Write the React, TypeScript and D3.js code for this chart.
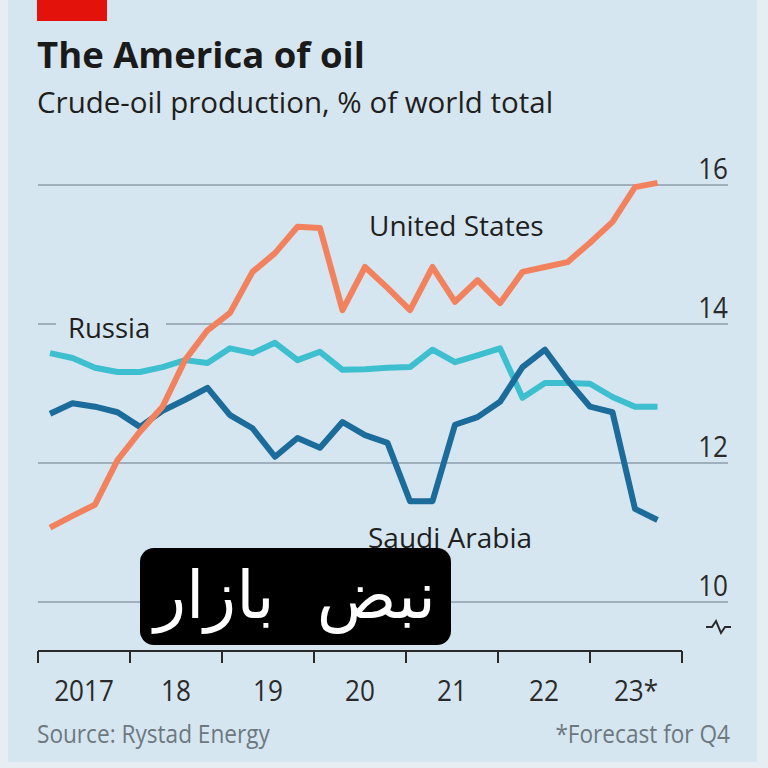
import React from 'react';
import * as d3 from 'd3';

const quarters = [
  '2017Q1', '2017Q2', '2017Q3', '2017Q4',
  '2018Q1', '2018Q2', '2018Q3', '2018Q4',
  '2019Q1', '2019Q2', '2019Q3', '2019Q4',
  '2020Q1', '2020Q2', '2020Q3', '2020Q4',
  '2021Q1', '2021Q2', '2021Q3', '2021Q4',
  '2022Q1', '2022Q2', '2022Q3', '2022Q4',
  '2023Q1', '2023Q2', '2023Q3', '2023Q4',
];

const unitedStates = [11.07, 11.24, 11.4, 12.04, 12.45, 12.81, 13.48, 13.91, 14.16, 14.75, 15.02, 15.4, 15.38, 14.2, 14.82, 14.52, 14.2, 14.82, 14.32, 14.63, 14.3, 14.75, 14.82, 14.89, 15.17, 15.47, 15.97, 16.03];
const russia = [13.58, 13.51, 13.37, 13.31, 13.31, 13.38, 13.48, 13.44, 13.65, 13.58, 13.73, 13.48, 13.6, 13.34, 13.35, 13.37, 13.38, 13.63, 13.45, 13.55, 13.65, 12.94, 13.15, 13.15, 13.14, 12.95, 12.81, 12.81];
const saudiArabia = [12.71, 12.86, 12.81, 12.73, 12.52, 12.75, 12.91, 13.08, 12.69, 12.5, 12.09, 12.36, 12.22, 12.59, 12.4, 12.29, 11.45, 11.45, 12.55, 12.66, 12.88, 13.38, 13.63, 13.19, 12.81, 12.73, 11.34, 11.18];

const yearTicks = [2017, 2018, 2019, 2020, 2021, 2022, 2023, 2024];
const yearLabels = ['2017', '18', '19', '20', '21', '22', '23*'];
const yTicks = [10, 12, 14, 16];

const title = 'The America of oil';
const subtitle = 'Crude-oil production, % of world total';
const source = 'Source: Rystad Energy';
const note = '*Forecast for Q4';
const watermark = 'نبض  بازار';

const FONT = "'Open Sans', 'Noto Sans', sans-serif";
const NARROW = 0.87;

export default function App() {
  const x = d3.scaleLinear().domain([0, quarters.length - 1]).range([50, 657.5]);
  const xYear = d3.scaleLinear().domain([2017, 2024]).range([38, 682]);
  const y = d3.scaleLinear().domain([10, 16]).range([602, 185]);

  const line = d3
    .line<number>()
    .x((_, i) => x(i))
    .y((d) => y(d));

  const series = [
    { name: 'Russia', values: russia, color: '#3dbfd0' },
    { name: 'Saudi Arabia', values: saudiArabia, color: '#1b6b9b' },
    { name: 'United States', values: unitedStates, color: '#f2825e' },
  ];

  return (
    <svg
      width={768}
      height={768}
      style={{ position: 'absolute', left: 0, top: 0 }}
      xmlns="http://www.w3.org/2000/svg"
    >
      <rect x={0} y={0} width={768} height={768} fill="#e6eef4" />
      <rect x={8} y={0} width={749} height={762} fill="#d6e6f0" />
      <rect x={37} y={0} width={70} height={21} fill="#e3120b" />

      <text x={37} y={68} fontFamily={FONT} fontWeight={700} fontSize={36.5} fill="#1a1a1a">
        {title}
      </text>
      <text x={37} y={113} fontFamily={FONT} fontSize={29.5} fill="#1f1f1f">
        {subtitle}
      </text>

      {/* gridlines */}
      {yTicks.map((t) => (
        <line key={t} x1={38} x2={728} y1={y(t)} y2={y(t)} stroke="#9fb0bc" strokeWidth={2} />
      ))}
      {yTicks.map((t) => (
        <text
          key={'l' + t}
          transform={`translate(728,${y(t) - 6}) scale(${NARROW},1)`}
          textAnchor="end"
          fontFamily={FONT}
          fontSize={30}
          fill="#2a2a2a"
        >
          {t}
        </text>
      ))}
      <path
        d={`M706,627 h6 l4,-6 l5,12 l4,-6 h6`}
        fill="none"
        stroke="#2a2a2a"
        strokeWidth={2}
      />

      {/* Russia label knockout */}
      <rect x={56} y={306} width={110} height={36} fill="#d6e6f0" />
      <text x={68} y={338} fontFamily={FONT} fontSize={27.5} fill="#1f1f1f">
        Russia
      </text>
      <text x={369} y={236} fontFamily={FONT} fontSize={28} fill="#1f1f1f">
        United States
      </text>
      <text x={368} y={548} fontFamily={FONT} fontSize={28} fill="#1f1f1f">
        Saudi Arabia
      </text>

      {series.map((s) => (
        <path
          key={s.name}
          d={line(s.values) || ''}
          fill="none"
          stroke={s.color}
          strokeWidth={6}
          strokeLinejoin="round"
          strokeLinecap="butt"
        />
      ))}

      {/* x axis */}
      <line x1={xYear(2017)} x2={xYear(2024)} y1={651} y2={651} stroke="#2a2a2a" strokeWidth={2} />
      {yearTicks.map((t) => (
        <line key={t} x1={xYear(t)} x2={xYear(t)} y1={651} y2={663} stroke="#2a2a2a" strokeWidth={2} />
      ))}
      {yearLabels.map((l, i) => (
        <text
          key={l}
          transform={`translate(${xYear(yearTicks[i] + 0.5)},701) scale(${NARROW},1)`}
          textAnchor="middle"
          fontFamily={FONT}
          fontSize={30}
          fill="#2a2a2a"
        >
          {l}
        </text>
      ))}

      <text
        transform={`translate(37,743) scale(${NARROW},1)`}
        fontFamily={FONT}
        fontSize={26}
        fill="#6d7880"
      >
        {source}
      </text>
      <text
        transform={`translate(730,743) scale(${NARROW},1)`}
        textAnchor="end"
        fontFamily={FONT}
        fontSize={26}
        fill="#6d7880"
      >
        {note}
      </text>

      {/* watermark */}
      <rect x={140} y={548} width={311} height={97} rx={14} fill="#000" />
      <text
        x={295}
        y={618}
        textAnchor="middle"
        fontFamily="'DejaVu Sans', sans-serif"
        fontSize={66}
        fill="#fff"
        style={{ whiteSpace: 'pre' }}
      >
        {watermark}
      </text>
    </svg>
  );
}
